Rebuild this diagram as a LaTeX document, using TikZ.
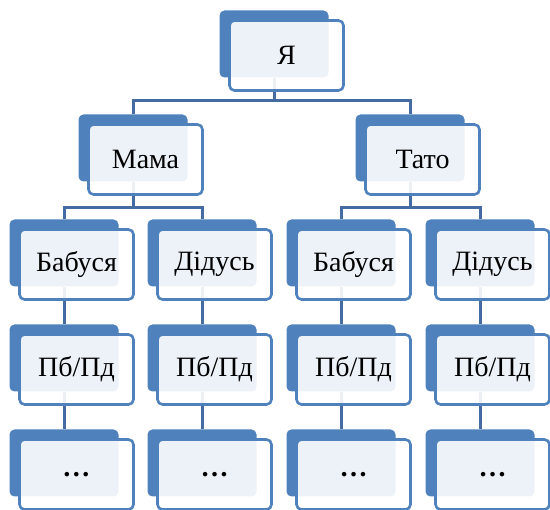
\documentclass[tikz,border=0pt]{standalone}
\usepackage{fontspec}
\usetikzlibrary{backgrounds}
\setmainfont{Liberation Serif}
\definecolor{bcol}{RGB}{79,129,189}
\definecolor{lcol}{RGB}{68,108,162}
\tikzset{every picture/.style={x=1pt,y=-1pt}}
\tikzset{back/.style={fill=bcol,rounded corners=5,minimum width=109,minimum height=67,inner sep=0pt}}
\tikzset{front/.style={draw=bcol,line width=2.6pt,fill=white,fill opacity=.9,text opacity=1,rounded corners=5,minimum width=114,minimum height=70,inner sep=0pt,font=\fontsize{28}{30}\selectfont}}
\tikzset{edge/.style={lcol,line width=3pt}}
\newcommand{\kin}[4]{\node [back] (#1) at (#2,#3) {};
  \node [front] (#1f) at (#2+12.5,#3+11.5) {#4};}

\begin{document}
\begin{tikzpicture}
\useasboundingbox (0,0) rectangle (550,510);
\kin{r}{274}{44}{Я}
\kin{m}{133}{148}{Мама}
\kin{t}{410}{148}{Тато}
\kin{mb}{64}{253}{Бабуся}
\kin{md}{202}{253}{Дідусь}
\kin{tb}{341}{253}{Бабуся}
\kin{td}{480}{253}{Дідусь}
\kin{p1}{64}{358}{Пб/Пд}
\kin{p2}{202}{358}{Пб/Пд}
\kin{p3}{341}{358}{Пб/Пд}
\kin{p4}{480}{358}{Пб/Пд}
\kin{e1}{64}{463}{\textbf{…}}
\kin{e2}{202}{463}{\textbf{…}}
\kin{e3}{341}{463}{\textbf{…}}
\kin{e4}{480}{463}{\textbf{…}}
\begin{pgfonlayer}{background}
\draw [edge] (r.south) -- ++(0,23) -| (m.north);
\draw [edge] (r.south) -- ++(0,23) -| (t.north);
\draw [edge] (m.south) -- ++(0,26) -| (mb.north);
\draw [edge] (m.south) -- ++(0,26) -| (md.north);
\draw [edge] (t.south) -- ++(0,26) -| (tb.north);
\draw [edge] (t.south) -- ++(0,26) -| (td.north);
\draw [edge] (mb.south) -- (p1.north);
\draw [edge] (md.south) -- (p2.north);
\draw [edge] (tb.south) -- (p3.north);
\draw [edge] (td.south) -- (p4.north);
\draw [edge] (p1.south) -- (e1.north);
\draw [edge] (p2.south) -- (e2.north);
\draw [edge] (p3.south) -- (e3.north);
\draw [edge] (p4.south) -- (e4.north);
\end{pgfonlayer}
\end{tikzpicture}
\end{document}
